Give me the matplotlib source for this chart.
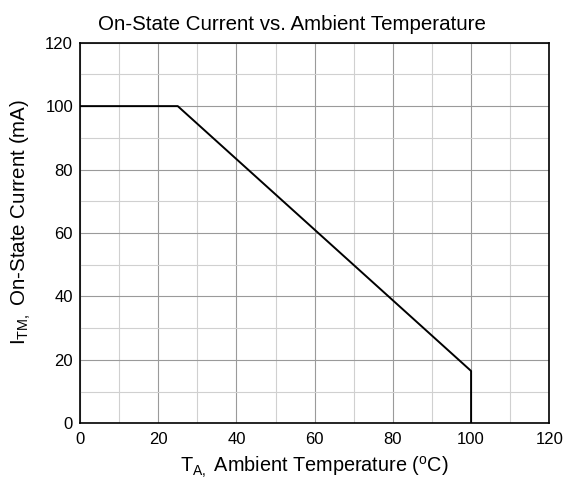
import matplotlib
matplotlib.use("Agg")
import matplotlib.pyplot as plt
from matplotlib.ticker import MultipleLocator

temp_c = [0, 25, 100, 100]
current_ma = [100, 100, 16.5, 0]
x_ticks = [0, 20, 40, 60, 80, 100, 120]
y_ticks = [0, 20, 40, 60, 80, 100, 120]

plt.rcParams['font.family'] = ['Liberation Sans', 'DejaVu Sans']
plt.rcParams['mathtext.fontset'] = 'custom'
plt.rcParams['mathtext.rm'] = 'Liberation Sans'
plt.rcParams['mathtext.it'] = 'Liberation Sans'

fig = plt.figure(figsize=(5.66, 4.84), dpi=100)
ax = fig.add_axes([0.1413, 0.1254, 0.9705 - 0.1413, 0.9118 - 0.1254])

ax.set_xlim(0, 120)
ax.set_ylim(0, 120)
ax.set_xticks(x_ticks)
ax.set_yticks(y_ticks)
ax.xaxis.set_minor_locator(MultipleLocator(10))
ax.yaxis.set_minor_locator(MultipleLocator(10))
ax.grid(which='major', color='#9a9a9a', linewidth=0.8)
ax.grid(which='minor', color='#d0d0d0', linewidth=0.8)
ax.set_axisbelow(True)
ax.tick_params(which='both', length=0, labelsize=12)
ax.tick_params(axis='x', pad=6)
ax.tick_params(axis='y', pad=5)

ax.plot(temp_c, current_ma, color='black', linewidth=1.4)

for s in ax.spines.values():
    s.set_linewidth(1.2)

ax.set_title('On-State Current vs. Ambient Temperature', fontsize=14.8, pad=9, x=0.452)
ax.set_xlabel(r'T$_{\mathregular{A,}}$ Ambient Temperature ($^{\mathregular{o}}$C)', fontsize=14.3, labelpad=6)
ax.set_ylabel(r'I$_{\mathregular{TM,}}$ On-State Current (mA)', fontsize=14.8)
ax.yaxis.set_label_coords(-0.10, 0.53)

fig.savefig('out.png', dpi=100)
